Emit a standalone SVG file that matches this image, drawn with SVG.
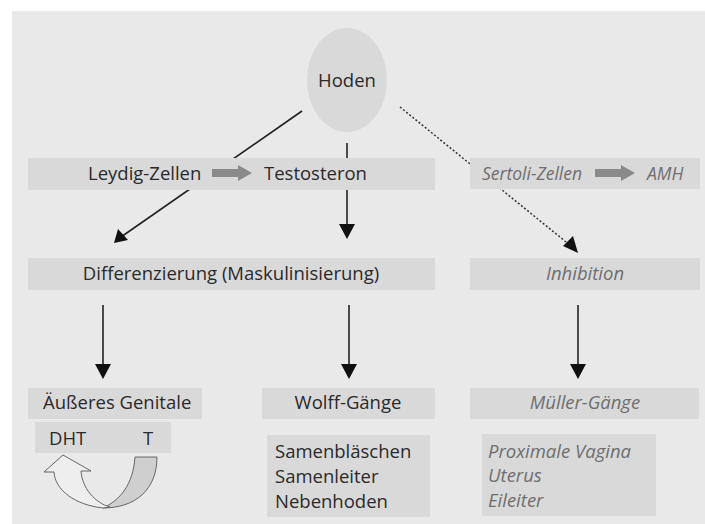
<svg xmlns="http://www.w3.org/2000/svg" width="705" height="524" viewBox="0 0 705 524">
<defs>
<style>
.t{font-family:"Open Sans","Liberation Sans",sans-serif;font-size:18.5px;fill:#2a2a2a}
.i{font-family:"Open Sans","Liberation Sans",sans-serif;font-size:18.5px;fill:#6e6e6e;font-style:italic}
.s{font-size:17.5px}
.band{fill:#d9d9da}
.ln{stroke:#222;stroke-width:1.6;fill:none}
.dl{stroke:#333;stroke-width:1.5;fill:none;stroke-dasharray:2 2}
.ga{fill:#8a8a8a}
.ah{fill:#111}
</style>
</defs>
<rect x="0" y="0" width="705" height="524" fill="#fff"/>
<rect x="12" y="11" width="693" height="513" fill="#e9e9ea"/>

<g id="connectors">
<line class="ln" x1="302" y1="111" x2="121" y2="237"/>
<path class="ah" d="M114,243 L118,229 L128,240 Z"/>
<line class="ln" x1="347" y1="143" x2="347" y2="228"/>
<path class="ah" d="M339,224 L355,224 L347,239 Z"/>
<line class="dl" x1="400" y1="107" x2="571" y2="246"/>
<path class="ah" d="M578,253 L563,246 L573,236 Z"/>
<line class="ln" x1="103" y1="305" x2="103" y2="367"/>
<path class="ah" d="M95,364 L111,364 L103,379 Z"/>
<line class="ln" x1="349" y1="305" x2="349" y2="367"/>
<path class="ah" d="M341,364 L357,364 L349,379 Z"/>
<line class="ln" x1="578" y1="305" x2="578" y2="367"/>
<path class="ah" d="M570,364 L586,364 L578,379 Z"/>
</g>

<g id="hoden">
<ellipse cx="347" cy="80" rx="40" ry="52" fill="#d9d9da"/>
<text class="t" x="347" y="87" text-anchor="middle">Hoden</text>
</g>

<g id="leydig-testosteron">
<rect class="band" x="28" y="158" width="407" height="32"/>
<text class="t" x="88" y="180">Leydig-Zellen</text>
<path class="ga" d="M212,169 L238,169 L238,165 L252,173 L238,181 L238,177 L212,177 Z"/>
<text class="t" x="264" y="180">Testosteron</text>
</g>

<g id="sertoli-amh">
<rect class="band" x="470" y="158" width="230" height="31"/>
<text class="i s" x="482" y="180">Sertoli-Zellen</text>
<path class="ga" d="M595,169 L621,169 L621,165 L635,173 L621,181 L621,177 L595,177 Z"/>
<text class="i s" x="647" y="180">AMH</text>
</g>

<g id="differenzierung">
<rect class="band" x="28" y="258" width="407" height="32"/>
<text class="t" x="231" y="280" text-anchor="middle">Differenzierung (Maskulinisierung)</text>
</g>

<g id="inhibition">
<rect class="band" x="470" y="258" width="230" height="32"/>
<text class="i" x="585" y="280" text-anchor="middle">Inhibition</text>
</g>

<g id="aeusseres-genitale">
<rect class="band" x="28" y="388" width="174" height="31"/>
<text class="t" x="43" y="409">Äußeres Genitale</text>
</g>

<g id="dht-t">
<rect class="band" x="35" y="422" width="136" height="31"/>
<text class="t" x="49" y="445">DHT</text>
<text class="t" x="143" y="445">T</text>
<path d="M135,457 L157,457 C157,490 135,508 103,508 C120,500 133,485 135,457 Z" fill="#cfcfd0" stroke="#666" stroke-width="1"/>
<path d="M103,508 C75,505 55,490 54,472 L44,472 L63,455 L91,471 L81,471 C82,488 95,503 110,507 Z" fill="#eeeeee" stroke="#666" stroke-width="1"/>
</g>

<g id="wolff">
<rect class="band" x="262" y="388" width="173" height="31"/>
<text class="t" x="348" y="409" text-anchor="middle">Wolff-Gänge</text>
</g>

<g id="wolff-derivate">
<rect class="band" x="267" y="435" width="163" height="82"/>
<text class="t" x="275" y="458">Samenbläschen</text>
<text class="t" x="275" y="483">Samenleiter</text>
<text class="t" x="275" y="508">Nebenhoden</text>
</g>

<g id="mueller">
<rect class="band" x="470" y="388" width="229" height="31"/>
<text class="i" x="585" y="409" text-anchor="middle">Müller-Gänge</text>
</g>

<g id="mueller-derivate">
<rect class="band" x="482" y="434" width="174" height="82"/>
<text class="i" x="488" y="458">Proximale Vagina</text>
<text class="i" x="488" y="482">Uterus</text>
<text class="i" x="488" y="507">Eileiter</text>
</g>
</svg>
